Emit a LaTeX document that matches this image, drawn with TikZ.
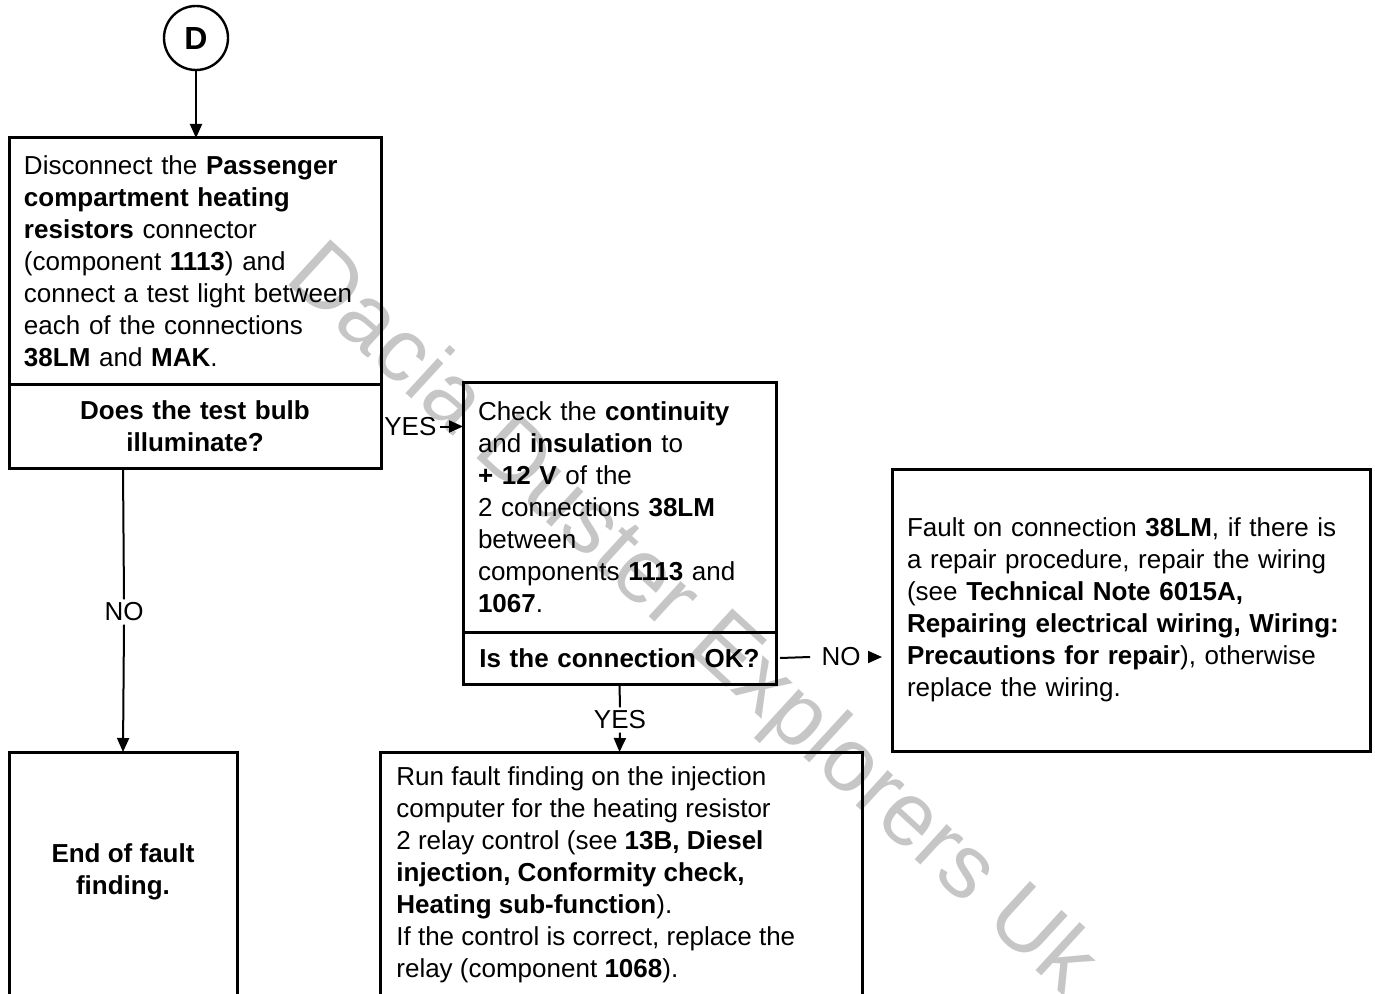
\documentclass[tikz,border=0pt]{standalone}
\usepackage{fontspec}
\setmainfont{Liberation Sans}
\usetikzlibrary{positioning, arrows.meta}
\definecolor{markgray}{HTML}{C6C6C6}
\tikzset{
  % one step of the chart (text block in a frame)
  chartbox/.style={draw, line width=1.5pt, outer sep=0pt, inner xsep=7.5pt,
                   inner ysep=0pt, align=left,
                   font=\fontsize{13}{16}\selectfont},
  % question under a step
  askbox/.style={chartbox, align=center,
                 font=\bfseries\fontsize{13}{16}\selectfont},
  % plain text inside an open frame
  textblock/.style={inner sep=0pt, align=left,
                    font=\fontsize{13}{16}\selectfont},
  % yes / no on a connector
  lbl/.style={inner sep=1.5pt, font=\fontsize{13}{14}\selectfont},
  flowline/.style={line width=1pt},
  flow/.style={line width=1pt, -{Triangle[length=7pt,width=6pt]}},
}
\begin{document}
\begin{tikzpicture}[x=0.5pt, y=-0.5pt]
  \useasboundingbox (0,0) rectangle (1375,994);
  % watermark
  \node[text=markgray, rotate=-42.5, font=\fontsize{45}{45}\selectfont]
    (mark) at (690,622) {Dacia Duster Explorers Uk};
  % entry point
  \node[circle, draw, line width=1.2pt, minimum size=32pt, inner sep=0pt,
        font=\bfseries\fontsize{16}{16}\selectfont] (entry) at (196,38) {D};
  % first test
  \node[chartbox, anchor=north west, text width=171pt, minimum height=123.5pt]
    (test) at (9,138)
    {Disconnect the \textbf{Passenger}\\
     \textbf{compartment heating}\\
     \textbf{resistors} connector\\
     (component \textbf{1113}) and\\
     connect a test light between\\
     each of the connections\\
     \textbf{38LM} and \textbf{MAK}.};
  \node[askbox, below=0pt of test, text width=171pt, minimum height=41.5pt]
    (bulb) {Does the test bulb\\ illuminate?};
  % continuity check
  \node[chartbox, anchor=north west, text width=141.5pt, minimum height=124.5pt]
    (check) at (463,383)
    {Check the \textbf{continuity}\\
     and \textbf{insulation} to\\
     \textbf{+ 12 V} of the\\
     2 connections \textbf{38LM}\\
     between\\
     components \textbf{1113} and\\
     \textbf{1067}.};
  \node[askbox, below=0pt of check, text width=141.5pt, minimum height=26pt]
    (conn) {Is the connection OK?};
  % wiring fault
  \node[chartbox, anchor=north west, text width=224pt, minimum height=141pt]
    (fault) at (892,469)
    {Fault on connection \textbf{38LM}, if there is\\
     a repair procedure, repair the wiring\\
     (see \textbf{Technical Note 6015A,}\\
     \textbf{Repairing electrical wiring, Wiring:}\\
     \textbf{Precautions for repair}), otherwise\\
     replace the wiring.};
  % end
  \node[chartbox, anchor=north west, minimum width=114pt, minimum height=130pt]
    (finish) at (9,752) {};
  \node[textblock, align=center, font=\bfseries\fontsize{13}{16}\selectfont]
    (finishtxt) at (123,872) {End of fault\\ finding.};
  % injection computer
  \node[chartbox, anchor=north west, minimum width=241pt, minimum height=130pt]
    (relay) at (380,752) {};
  \node[textblock, anchor=north west] (relaytxt)
    at ([shift={(8pt,-7pt)}]relay.north west)
    {Run fault finding on the injection\\
     computer for the heating resistor\\
     2 relay control (see \textbf{13B, Diesel}\\
     \textbf{injection, Conformity check,}\\
     \textbf{Heating sub-function}).\\
     If the control is correct, replace the\\
     relay (component \textbf{1068}).};
  % connectors
  \draw[flow] (entry.south) -- (entry.south |- test.north);
  \node[lbl, right=0pt of bulb.east] (yes1) {YES};
  \draw[flowline] (bulb.east) -- (yes1.west);
  \draw[flow] (yes1.east) -- (yes1.east -| check.west);
  \node[lbl] (no1) at (124,612) {NO};
  \draw[flowline] (finish.north |- bulb.south) -- (no1.north);
  \draw[flow] (no1.south) -- (finish.north);
  \node[lbl] (yes2) at (620,720) {YES};
  \draw[flowline] (conn.south) -- (yes2.north);
  \draw[flow] (yes2.south) -- (conn.south |- relay.north);
  \node[lbl] (no2) at (841,657) {NO};
  \draw[flowline] ([xshift=2pt]conn.east) -- ([xshift=-4pt]no2.west);
  \draw[flow, shorten >=5pt] ([xshift=2pt]no2.east) -- (no2.east -| fault.west);
\end{tikzpicture}
\end{document}
